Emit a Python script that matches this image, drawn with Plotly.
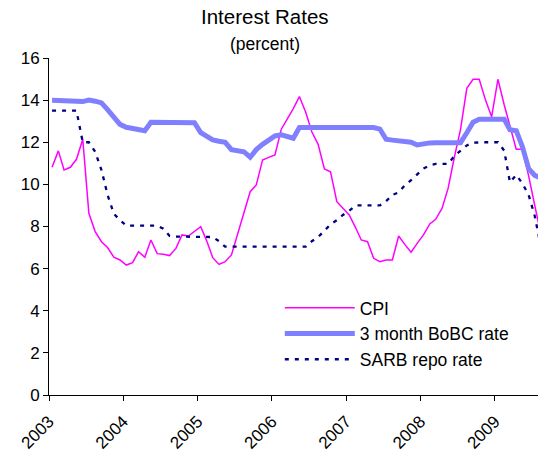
import pandas as pd
import plotly.graph_objects as go

# Monthly observations, Jan 2003 - Aug 2009 (the last month runs past the right edge)
months = pd.date_range("2003-01-01", periods=80, freq="MS") + pd.Timedelta(days=15)

cpi = [10.81, 11.59, 10.68, 10.81, 11.19, 12.14, 8.63, 7.76, 7.28, 7.0,
       6.54, 6.41, 6.17, 6.28, 6.8, 6.54, 7.36, 6.71, 6.68, 6.62,
       6.96, 7.6, 7.55, 7.78, 7.99, 7.28, 6.52, 6.2, 6.33, 6.65,
       7.64, 8.6, 9.65, 9.97, 11.16, 11.28, 11.4, 12.62, 13.06, 13.6,
       14.17, 13.42, 12.5, 11.9, 10.73, 10.6, 9.18, 8.86, 8.55, 7.95,
       7.36, 7.28, 6.49, 6.33, 6.41, 6.41, 7.55, 7.15, 6.78, 7.2,
       7.6, 8.12, 8.34, 8.86, 9.81, 11.3, 12.6, 14.56, 14.99, 14.99,
       14.0, 13.21, 14.99, 13.77, 12.8, 11.67, 11.67, 10.4, 9.0, 7.6]

bobc = [14.0, 14.0, 14.0, 14.0, 13.95, 13.93, 14.0, 13.95, 13.87, 13.55,
        13.15, 12.85, 12.71, 12.65, 12.63, 12.55, 12.95, 12.95, 12.95, 12.95,
        12.95, 12.95, 12.95, 12.93, 12.46, 12.3, 12.11, 12.05, 12.0, 11.65,
        11.6, 11.55, 11.29, 11.65, 11.9, 12.11, 12.3, 12.35, 12.3, 12.19,
        12.7, 12.7, 12.7, 12.7, 12.7, 12.7, 12.7, 12.7, 12.7, 12.7,
        12.7, 12.7, 12.7, 12.62, 12.14, 12.1, 12.06, 12.02, 12.0, 11.87,
        11.95, 11.97, 11.98, 11.98, 11.98, 11.98, 11.98, 12.45, 12.95, 13.09,
        13.09, 13.09, 13.09, 13.09, 12.6, 12.55, 11.8, 10.75, 10.43, 10.3]

sarb = [13.5, 13.5, 13.5, 13.5, 13.5, 12.0, 12.0, 11.55, 10.68, 9.5,
        8.6, 8.3, 8.04, 8.04, 8.04, 8.04, 8.04, 8.04, 7.9, 7.55,
        7.52, 7.52, 7.52, 7.52, 7.52, 7.52, 7.5, 7.3, 7.04, 7.04,
        7.04, 7.04, 7.04, 7.04, 7.04, 7.04, 7.04, 7.04, 7.04, 7.04,
        7.04, 7.04, 7.3, 7.5, 7.8, 8.1, 8.3, 8.55, 8.75, 9.0,
        9.0, 9.0, 9.0, 9.0, 9.2, 9.5, 9.62, 9.95, 10.2, 10.45,
        10.75, 10.9, 10.97, 10.97, 10.97, 11.35, 11.6, 11.85, 11.98, 12.0,
        12.0, 12.0, 12.0, 11.6, 10.1, 10.45, 10.05, 9.5, 8.5, 7.0]

series_names = ["CPI", "3 month BoBC rate", "SARB repo rate"]
y_ticks = [0, 2, 4, 6, 8, 10, 12, 14, 16]
title_text = "Interest Rates"
subtitle_text = "(percent)"

FONT = "Arial, 'Liberation Sans', sans-serif"

fig = go.Figure()
fig.add_trace(go.Scatter(x=months, y=cpi, name=series_names[0], mode="lines",
                         line=dict(color="#FF00FF", width=1.5), legendgroup="a"))
fig.add_trace(go.Scatter(x=months, y=bobc, name=series_names[1], mode="lines",
                         line=dict(color="#8080FF", width=5), legendgroup="b"))
fig.add_trace(go.Scatter(x=months, y=sarb, name=series_names[2], mode="lines",
                         line=dict(color="#000080", width=2.3, dash="4px,6px"), legendgroup="c"))

PL, PT, PW, PH = 49, 58, 489, 337  # plot area in window pixels

fig.update_layout(
    width=538, height=452,
    margin=dict(l=PL, r=0, t=PT, b=452 - PT - PH, autoexpand=False),
    paper_bgcolor="white", plot_bgcolor="white",
    font=dict(family=FONT, size=17, color="black"),
    showlegend=True,
    legend=dict(x=0.472, y=0.312, xanchor="left", yanchor="top",
                bgcolor="rgba(0,0,0,0)", borderwidth=0,
                font=dict(size=17.5, family=FONT),
                itemwidth=70, tracegroupgap=12, traceorder="normal"),
    annotations=[
        dict(text=title_text, xref="paper", yref="paper",
             x=(265 - PL) / PW, y=(PT + PH - 17) / PH,
             xanchor="center", yanchor="middle", showarrow=False,
             font=dict(size=20.5, family=FONT, color="black")),
        dict(text=subtitle_text, xref="paper", yref="paper",
             x=(265 - PL) / PW, y=(PT + PH - 44) / PH,
             xanchor="center", yanchor="middle", showarrow=False,
             font=dict(size=17.5, family=FONT, color="black")),
    ],
)

fig.update_xaxes(
    type="date", automargin=False,
    range=["2003-01-01", "2009-08-01"],
    tick0="2003-01-01", dtick="M12", tickformat="%Y",
    tickangle=-45, ticklabelstandoff=4,
    showline=True, linecolor="black", linewidth=1,
    ticks="outside", ticklen=5, tickcolor="black",
    showgrid=False, zeroline=False,
    tickfont=dict(size=17, family=FONT),
)
fig.update_yaxes(
    range=[0, 16], tickvals=y_ticks, automargin=False,
    showline=True, linecolor="black", linewidth=1,
    ticks="outside", ticklen=5, tickcolor="black",
    showgrid=False, zeroline=False,
    tickfont=dict(size=17, family=FONT),
)

fig.write_html(
    "out.html",
    config={"displayModeBar": False},
    post_script="document.body.style.margin='0';document.body.style.overflow='hidden';",
)
